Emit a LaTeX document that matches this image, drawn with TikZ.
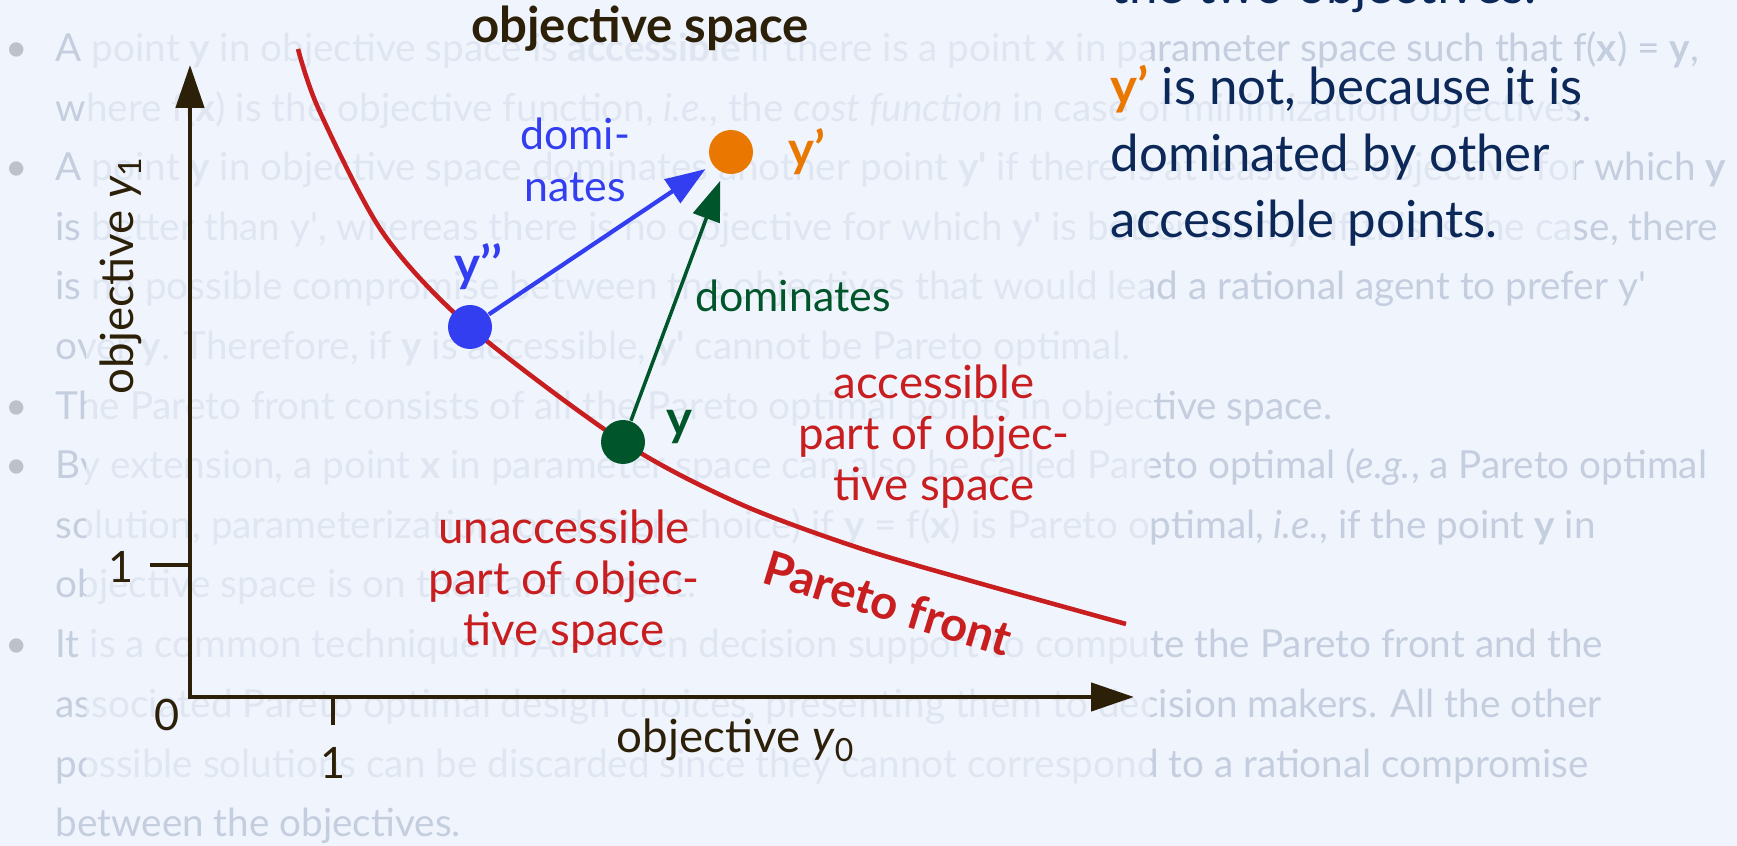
\documentclass[tikz,border=0pt]{standalone}
\usepackage{fontspec}
\setmainfont{Lato}
\usetikzlibrary{arrows.meta}
\definecolor{pagebg}{RGB}{240,245,253}
\definecolor{faint}{RGB}{196,206,222}
\definecolor{bulletgray}{RGB}{188,193,204}
\definecolor{axisbrown}{RGB}{45,32,8}
\definecolor{frontred}{RGB}{200,30,32}
\definecolor{domblue}{RGB}{50,62,240}
\definecolor{domgreen}{RGB}{0,86,42}
\definecolor{ptorange}{RGB}{234,120,0}
\definecolor{notenavy}{RGB}{12,40,88}

\begin{document}
\begin{tikzpicture}[
  bgline/.style={anchor=base west, inner sep=0, text=faint, font=\fontsize{11}{13}\selectfont},
  bullet/.style={anchor=base, inner sep=0, text=bulletgray, font=\fontsize{11}{13}\selectfont},
  veil/.style={fill=pagebg, fill opacity=0.62},
  axis/.style={axisbrown, line width=1.3pt, line join=miter},
  axhead/.style={{Triangle[length=0.43cm,width=0.28cm]}-{Triangle[length=0.43cm,width=0.28cm]}},
  axlabel/.style={inner sep=0, text=axisbrown, font=\fontsize{13}{15}\selectfont},
  axnum/.style={inner sep=0, text=axisbrown, font=\fontsize{12.3}{14}\selectfont},
  dot/.style={circle, minimum size=0.44cm, inner sep=0},
  ptlabel/.style={inner sep=0, font=\fontsize{14}{16}\selectfont\bfseries},
  dominates/.style={line width=1.2pt, shorten >=0.08cm, -{Triangle[length=0.4cm,width=0.28cm]}},
  domlabel/.style={inner sep=0, align=center, font=\fontsize{12.2}{14.8}\selectfont},
  region/.style={inner sep=0, align=center, text=frontred, font=\fontsize{13}{14.5}\selectfont},
  note/.style={anchor=base west, inner sep=0, text=notenavy, font=\fontsize{14.5}{17}\selectfont}]
  \useasboundingbox (0,0) rectangle (17.37,8.46);
  \fill[pagebg] (0,0) rectangle (17.37,8.46);
  % slide text behind the figure
  \node[bullet] (b1) at (0.17,7.84) {•};
  \node[bgline] (l1) at (0.55,7.84) {A point \textbf{y} in objective space is \textbf{accessible} if there is a point \textbf{x} in parameter space such that f(\textbf{x}) = \textbf{y},};
  \node[bgline] (l2) at (0.55,7.24) {where f(\textbf{x}) is the objective function, \textit{i.e.}, the \textit{cost function} in case of minimization objectives.};
  \node[bullet] (b3) at (0.17,6.65) {•};
  \node[bgline] (l3) at (0.55,6.65) {A point \textbf{y} in objective space dominates another point \textbf{y\textquotesingle} if there is at least one objective for which \textbf{y}};
  \node[bgline] (l4) at (0.55,6.05) {is better than y\textquotesingle, whereas there is no objective for which \textbf{y\textquotesingle} is better than \textbf{y}. If this is the case, there};
  \node[bgline] (l5) at (0.55,5.46) {is no possible compromise between the objectives that would lead a rational agent to prefer y\textquotesingle};
  \node[bgline] (l6) at (0.55,4.86) {over \textbf{y}. Therefore, if \textbf{y} is accessible, \textbf{y\textquotesingle} cannot be Pareto optimal.};
  \node[bullet] (b7) at (0.17,4.26) {•};
  \node[bgline] (l7) at (0.55,4.26) {The Pareto front consists of all the Pareto optimal points in objective space.};
  \node[bullet] (b8) at (0.17,3.67) {•};
  \node[bgline] (l8) at (0.55,3.67) {By extension, a point \textbf{x} in parameter space can also be called Pareto optimal (\textit{e.g.}, a Pareto optimal};
  \node[bgline] (l9) at (0.55,3.07) {solution, parameterization, or design choice) if \textbf{y} = f(\textbf{x}) is Pareto optimal, \textit{i.e.}, if the point \textbf{y} in};
  \node[bgline] (l10) at (0.55,2.48) {objective space is on the Pareto front.};
  \node[bullet] (b11) at (0.17,1.88) {•};
  \node[bgline] (l11) at (0.55,1.88) {It is a common technique in AI-driven decision support to compute the Pareto front and the};
  \node[bgline] (l12) at (0.55,1.28) {associated Pareto optimal design choices, presenting them to decision makers. All the other};
  \node[bgline] (l13) at (0.55,0.68) {possible solutions can be discarded since they cannot correspond to a rational compromise};
  \node[bgline] (l14) at (0.55,0.09) {between the objectives.};
  \fill[veil] (0.86,0.51) rectangle (11.50,8.46);
  \fill[veil] (11.50,5.84) rectangle (15.75,7.71);
  % objective space
  \node[axlabel, anchor=base, font=\fontsize{14}{16}\selectfont\bfseries] (title) at (6.40,8.03) {objective space};
  \coordinate (o) at (1.90,1.49);
  \coordinate (ytip) at (1.90,7.81);
  \coordinate (xtip) at (11.34,1.49);
  \draw[axis, axhead] (ytip) -- (o) -- (xtip);
  \draw[axis] (1.50,2.81) -- (1.90,2.81);
  \draw[axis] (3.33,1.49) -- (3.33,1.21);
  \node[axnum] (oney) at (1.21,2.79) {1};
  \node[axnum] (zero) at (1.67,1.31) {0};
  \node[axnum] (onex) at (3.33,0.83) {1};
  \node[axlabel, rotate=90, anchor=base] (ylab) at (1.33,5.71) {objective \textit{y}\textsubscript{1}};
  \node[axlabel, anchor=base] (xlab) at (7.36,0.93) {objective \textit{y}\textsubscript{0}};
  \draw[frontred, line width=1.3pt] plot[smooth] coordinates {(2.98,7.97) (3.19,7.36) (3.83,6.13)
    (4.70,5.19) (6.23,4.04) (7.38,3.43) (8.56,2.99) (9.75,2.64) (11.26,2.22)};
  \node[dot, fill=domblue] (ypp) at (4.70,5.19) {};
  \node[dot, fill=domgreen] (y) at (6.23,4.04) {};
  \node[dot, fill=ptorange] (yp) at (7.31,6.94) {};
  \node[ptlabel, text=domblue] (ypplab) at (4.78,5.79) {y’’};
  \node[ptlabel, text=ptorange] (yplab) at (8.07,6.94) {y’};
  \node[ptlabel, text=domgreen] (ylab2) at (6.79,4.19) {y};
  \draw[dominates, domblue] (ypp) -- (yp);
  \draw[dominates, domgreen, line width=1pt] (y) -- (yp);
  \node[domlabel, text=domblue] (dom1) at (5.75,6.86) {domi-\\nates};
  \node[domlabel, text=domgreen, anchor=base] (dom2) at (7.93,5.34) {dominates};
  \node[region] (acc) at (9.34,4.09) {accessible\\part of objec-\\tive space};
  \node[region] (unacc) at (5.64,2.64) {unaccessible\\part of objec-\\tive space};
  \node[inner sep=0, text=frontred, rotate=-17, font=\fontsize{13.5}{15}\selectfont\bfseries] (pf) at (8.88,2.43) {Pareto front};
  % note on the right
  \node[note] (n0) at (11.10,8.42) {the two objectives.};
  \node[note] (n1) at (11.10,7.41) {\textcolor{ptorange}{\bfseries y’} is not, because it is};
  \node[note] (n2) at (11.10,6.74) {dominated by other};
  \node[note] (n3) at (11.10,6.08) {accessible points.};
\end{tikzpicture}
\end{document}
